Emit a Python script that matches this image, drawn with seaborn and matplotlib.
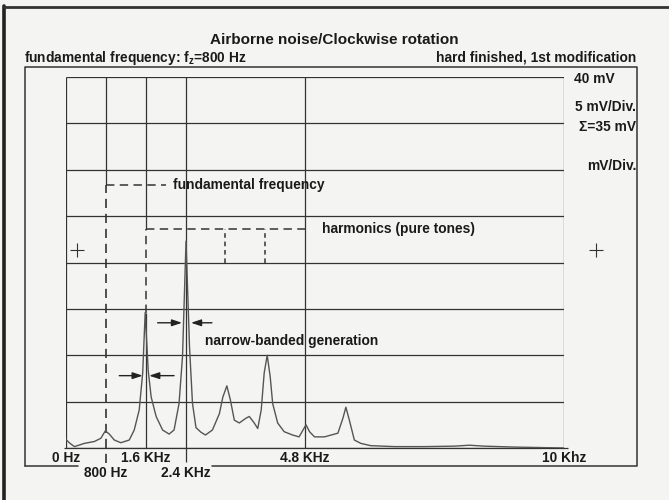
import matplotlib
matplotlib.use("Agg")
import matplotlib.pyplot as plt
import pandas as pd
import seaborn as sns

# spectrum: frequency (kHz) vs level (mV)
freq_khz = [0.00, 0.08, 0.17, 0.37, 0.57, 0.70, 0.79, 0.87, 0.97, 1.10,
            1.27, 1.37, 1.47, 1.54, 1.59, 1.65, 1.71, 1.81, 1.94, 2.07,
            2.17, 2.27, 2.34, 2.41, 2.48, 2.54, 2.61, 2.71, 2.80, 2.94,
            3.08, 3.15, 3.23, 3.30, 3.38, 3.48, 3.61, 3.68, 3.78, 3.85,
            3.92, 3.98, 4.04, 4.10, 4.15, 4.25, 4.38, 4.55, 4.68, 4.82,
            4.89, 4.99, 5.19, 5.46, 5.56, 5.62, 5.69, 5.79, 5.92, 6.12,
            6.60, 7.20, 7.80, 8.10, 8.40, 9.00, 9.50, 10.00]
level_mv = [0.9, 0.5, 0.15, 0.5, 0.7, 1.05, 1.85, 1.5, 0.86, 0.57,
            0.86, 1.94, 4.1, 8.1, 14.6, 8.4, 5.5, 3.4, 1.94, 1.5,
            1.94, 4.8, 9.9, 22.3, 10.9, 4.8, 2.2, 1.7, 1.4, 1.94,
            3.7, 5.5, 6.7, 5.2, 3.0, 2.7, 3.2, 3.4, 2.7, 2.1,
            4.1, 8.1, 10.0, 7.7, 4.8, 2.7, 1.76, 1.4, 1.2, 2.5,
            1.76, 1.2, 1.2, 1.6, 3.2, 4.4, 3.0, 0.86, 0.5, 0.25,
            0.15, 0.15, 0.2, 0.3, 0.2, 0.1, 0.05, 0.0]

grid_khz = [0, 0.8, 1.6, 2.4, 4.8, 10]
grid_mv = [0, 5, 10, 15, 20, 25, 30, 35, 40]
ticks_row1 = [0, 1.6, 4.8, 10]
labels_row1 = ["0 Hz", "1.6 KHz", "4.8 KHz", "10 Khz"]
ticks_row2 = [0.8, 2.4]
labels_row2 = ["800 Hz", "2.4 KHz"]

fundamental_khz = 0.8
fundamental_mv = 28.4
harmonics_khz = [1.6, 3.2, 4.0, 4.8]
harmonics_mv = 23.6

ink = "#333333"
paper = "#f4f4f2"

sns.set_style("white", {"axes.facecolor": paper, "figure.facecolor": paper})
plt.rcParams["font.family"] = ["Liberation Sans", "DejaVu Sans"]

fig = plt.figure(figsize=(6.69, 5), dpi=100)

# page decoration in pixel coordinates
page = fig.add_axes([0, 0, 1, 1])
page.set_xlim(0, 669)
page.set_ylim(500, 0)
page.axis("off")
page.plot([4, 4], [6, 500], color="#222222", lw=2.6)
page.plot([4, 669], [7, 7], color="#333333", lw=2.0)
page.plot([25, 25, 637, 637, 212], [466, 67, 67, 466, 466], color=ink, lw=1.1)
page.plot([25, 78], [466, 466], color=ink, lw=1.1)
page.plot([77, 596], [250, 250], ls="none", marker="+", ms=10, mew=0.8, color=ink)

fs = 9.9
tkw = dict(color="#1a1a1a", fontweight="bold", va="center")
page.text(334, 40, "Airborne noise/Clockwise rotation", ha="center", fontsize=11, **tkw)
page.text(24, 58, r"fundamental frequency: $\mathregular{f_z}$=800 Hz", ha="left", fontsize=fs, **tkw)
page.text(636, 57, "hard finished, 1st modification", ha="right", fontsize=fs, **tkw)
page.text(574, 79, "40 mV", ha="left", fontsize=fs, **tkw)
page.text(636, 107, "5 mV/Div.", ha="right", fontsize=fs, **tkw)
page.text(636, 127, "\u03a3=35 mV", ha="right", fontsize=fs, **tkw)
page.text(636, 166, "mV/Div.", ha="right", fontsize=fs, **tkw)

# the spectrum itself
ax = fig.add_axes([66 / 669, 52 / 500, 498 / 669, 371 / 500])
ax.set_xlim(0, 10)
ax.set_ylim(0, 40)
ax.axis("off")

lw = 0.9
dash = (0, (5.5, 3.5))
ax.hlines(grid_mv, 0, 10, color=ink, lw=lw)
ax.hlines([35, 40], 10, 10.08, color=ink, lw=lw)
ax.hlines(0, -0.05, 10.08, color=ink, lw=lw, clip_on=False)

# vertical grid; the 800 Hz and 1.6 kHz lines turn dashed below the notes
ax.vlines([0, 4.8, 10], 0, 40, color=ink, lw=lw)
ax.vlines(2.4, -1.5, 40, color=ink, lw=lw, clip_on=False)
ax.vlines(fundamental_khz, fundamental_mv, 40, color=ink, lw=lw)
ax.vlines(fundamental_khz, -1.6, fundamental_mv, color=ink, lw=1.2, linestyles=dash, clip_on=False)
ax.vlines(1.6, harmonics_mv, 40, color=ink, lw=lw)
ax.vlines(1.6, 14.6, harmonics_mv, color=ink, lw=1.1, linestyles=dash)
ax.vlines(1.6, 0, 14.6, color=ink, lw=lw)

spec = pd.DataFrame({"freq": freq_khz, "level": level_mv})
sns.lineplot(data=spec, x="freq", y="level", ax=ax, color="#555555", lw=1.0)

# notes
ax.hlines(fundamental_mv, fundamental_khz, 2.01, color=ink, lw=1.1, linestyles=dash)
ax.text(2.14, fundamental_mv, "fundamental frequency", ha="left", fontsize=fs, **tkw)
ax.hlines(harmonics_mv, harmonics_khz[0], harmonics_khz[-1], color=ink, lw=1.1, linestyles=dash)
ax.vlines(harmonics_khz[1:3], 20, harmonics_mv, color=ink, lw=1.1, linestyles=(0, (3, 2.5)))
ax.text(5.15, harmonics_mv, "harmonics (pure tones)", ha="left", fontsize=fs, **tkw)
ax.text(2.79, 11.5, "narrow-banded generation", ha="left", fontsize=fs, **tkw)

akw = dict(arrowstyle="-|>,head_length=0.6,head_width=0.2", color="#222222", lw=1.0,
           shrinkA=0, shrinkB=0)
for tail, head, y in [(1.84, 2.33, 13.5), (2.93, 2.51, 13.5), (1.07, 1.54, 7.8), (2.17, 1.67, 7.8)]:
    ax.annotate("", xy=(head, y), xytext=(tail, y), arrowprops=akw)

for x, s in zip(ticks_row1, labels_row1):
    ax.text(x, -1.1, s, ha="center", fontsize=fs, clip_on=False, **tkw)
for x, s in zip(ticks_row2, labels_row2):
    ax.text(x, -2.7, s, ha="center", fontsize=fs, clip_on=False, **tkw)

fig.savefig("out.png", dpi=100, facecolor=paper)
